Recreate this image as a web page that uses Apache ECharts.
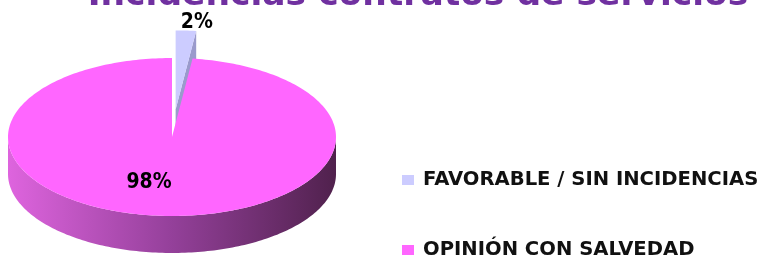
<!DOCTYPE html>
<html><head><meta charset="utf-8">
<script src="https://cdn.jsdelivr.net/npm/echarts@6/dist/echarts.min.js"></script>
<style>html,body{margin:0;padding:0;background:#fff}#c{width:768px;height:262px}</style>
</head><body><div id="c"></div>
<script>
const titleText = 'Incidencias contratos de servicios';
const categories = ['FAVORABLE / SIN INCIDENCIAS', 'OPINIÓN CON SALVEDAD'];
const values = [2, 98];
const colors = ['#ccccff', '#ff66ff'];
const exploded = [true, false];

const FONT = '"DejaVu Sans", sans-serif';
const NARROW = '"Liberation Sans Narrow", "DejaVu Sans Condensed", sans-serif';
const geo = {cx: 172, cy: 137, rx: 164, ry: 79, depth: 37, explode: 0.35};
const total = values.reduce((a, b) => a + b, 0);
let acc = 0;
const ranges = values.map(v => { const r = [acc / total, (acc + v) / total]; acc += v; return r; });

function P(t, z, dx, dy) {
  return [geo.cx + geo.rx * Math.sin(t) + dx, geo.cy - geo.ry * Math.cos(t) + z + dy];
}
function arcPts(a, b, z, dx, dy) {
  const pts = [], n = Math.max(2, Math.ceil(Math.abs(b - a) / 0.02));
  for (let i = 0; i <= n; i++) pts.push(P(a + (b - a) * i / n, z, dx, dy));
  return pts;
}
function renderSlice(idx) {
  return function (params, api) {
    const s = api.value(0) * 2 * Math.PI, e = api.value(1) * 2 * Math.PI;
    const pct = Math.round(api.value(2) / total * 100) + '%';
    const mid = (s + e) / 2;
    let dx = 0, dy = 0;
    if (exploded[idx]) { dx = geo.explode * geo.rx * Math.sin(mid); dy = -geo.explode * geo.ry * Math.cos(mid); }
    const c = [geo.cx + dx, geo.cy + dy];
    const ch = [];
    const ws = Math.max(s, Math.PI / 2), we = Math.min(e, 3 * Math.PI / 2);
    if (we > ws) {
      const top = arcPts(ws, we, 0, dx, dy), bot = arcPts(we, ws, geo.depth, dx, dy);
      ch.push({type: 'polygon', shape: {points: top.concat(bot)},
        style: {fill: new echarts.graphic.LinearGradient(0, 0, 1, 0, [
          {offset: 0, color: '#de64de'}, {offset: 0.5, color: '#94409a'}, {offset: 1, color: '#50214d'}])}});
    }
    if (exploded[idx]) {
      const pe = P(e, 0, dx, dy), peb = P(e, geo.depth, dx, dy);
      ch.push({type: 'polygon', shape: {points: [c, pe, peb, [c[0], c[1] + geo.depth]]}, style: {fill: '#9a9acc'}});
    }
    ch.push({type: 'polygon', shape: {points: [c].concat(arcPts(s, e, 0, dx, dy))}, style: {fill: colors[idx]}});
    let lp;
    if (exploded[idx]) { const q = P(mid, 0, dx, dy); lp = [q[0] + 11, q[1] - 8]; }
    else { lp = [geo.cx + 0.58 * geo.rx * Math.sin(mid) - 17, geo.cy - 0.58 * geo.ry * Math.cos(mid)]; }
    ch.push({type: 'text', x: lp[0], y: lp[1], style: {text: pct, fill: '#000', font: 'bold 21px ' + NARROW, align: 'center', verticalAlign: 'middle'}, z2: 10});
    return {type: 'group', children: ch};
  };
}

const chart = echarts.init(document.getElementById('c'), null, {renderer: 'canvas'});
chart.setOption({
  backgroundColor: '#fff',
  animation: false,
  legend: {
    orient: 'vertical', left: 402, top: 170, padding: 0, itemWidth: 12, itemHeight: 10, itemGap: 50,
    icon: 'rect', data: categories,
    textStyle: {fontFamily: FONT, fontWeight: 'bold', fontSize: 19.6, lineHeight: 18, color: '#111', padding: [0, 0, 0, 4]}
  },
  graphic: [{type: 'text', x: 418, y: -21, style: {text: titleText, font: 'bold 34.5px ' + FONT, fill: '#7030a0',
    align: 'center', verticalAlign: 'top', shadowColor: 'rgba(0,0,0,0.35)', shadowOffsetX: 2, shadowOffsetY: 2, shadowBlur: 2}}],
  series: categories.map((name, i) => ({
    type: 'custom', name: name, coordinateSystem: 'none', z: i + 2,
    itemStyle: {color: colors[i]},
    renderItem: renderSlice(i),
    data: [[ranges[i][0], ranges[i][1], values[i]]]
  }))
});
</script></body></html>
